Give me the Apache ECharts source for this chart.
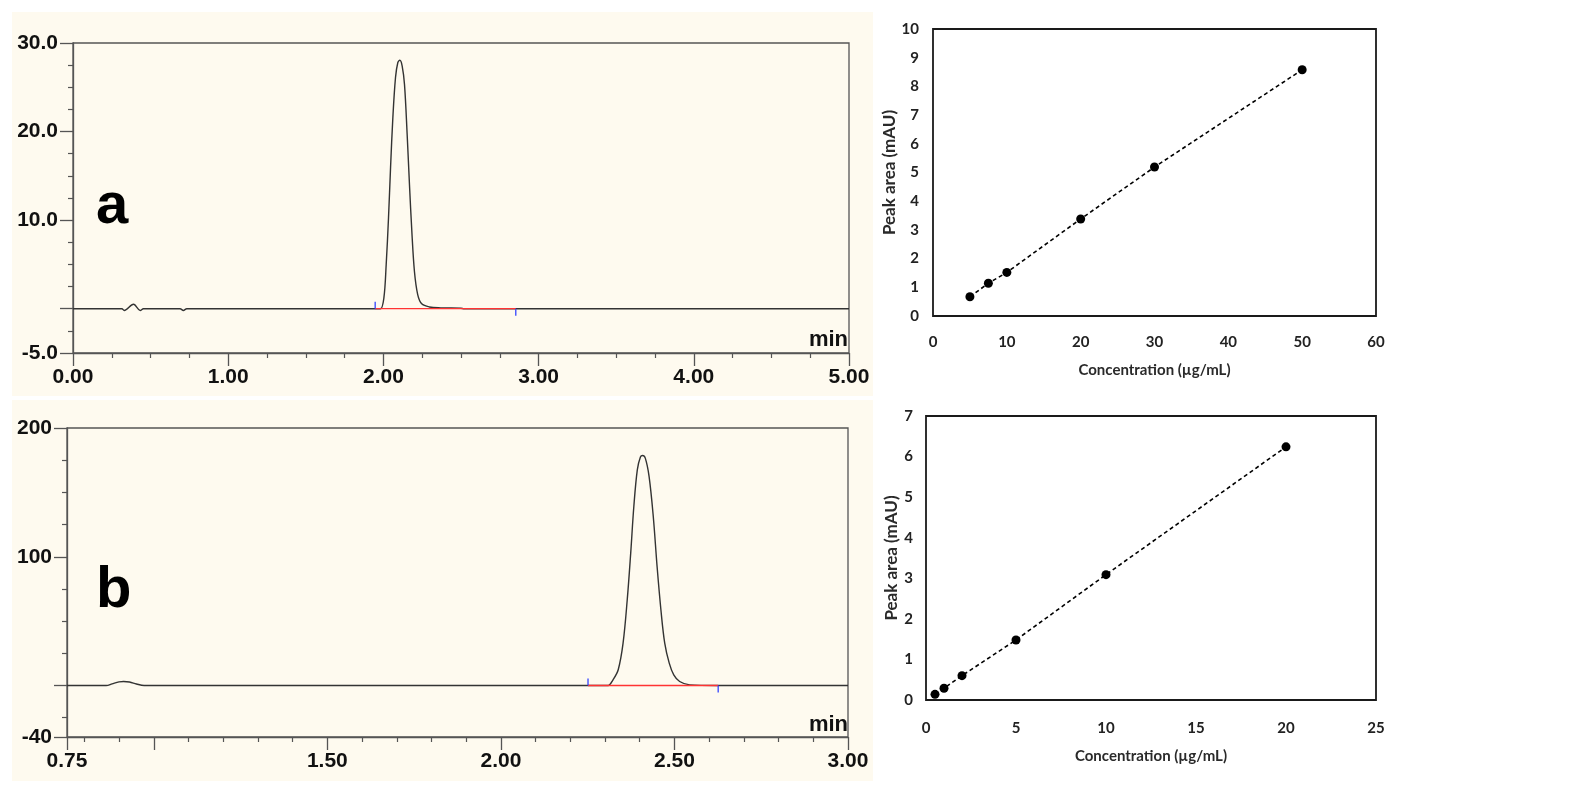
<!DOCTYPE html>
<html>
<head>
<meta charset="utf-8">
<script src="https://cdn.jsdelivr.net/npm/echarts@6/dist/echarts.min.js"></script>
<style>
  html, body { margin: 0; padding: 0; background: #fff; }
  #main { width: 1590px; height: 792px; }
</style>
</head>
<body>
<div id="main"></div>
<script>
// chromatogram a (time in min, signal)
var aTime   = [0, 0.315, 0.33, 0.39, 0.433, 0.454, 0.69, 0.711, 0.733, 1.96, 1.981, 2.003, 2.018, 2.033, 2.046, 2.061, 2.078, 2.093, 2.106, 2.121, 2.136, 2.153, 2.168, 2.183, 2.2, 2.221, 2.247, 2.296, 2.371, 2.5, 2.52, 5.0];
var aSignal = [0, 0, -0.2, 0.5, -0.2, 0, 0, -0.2, 0, 0, 0, 1.2, 5.0, 10.3, 15.9, 21.6, 26.1, 27.8, 28.05, 27.4, 25.3, 19.7, 14.0, 8.8, 4.2, 1.6, 0.55, 0.2, 0.1, 0.05, 0, 0];
var aIntegration = [1.947, 2.853];
var aMarkHeight = 0.8;
var aXMajor  = [0, 1, 2, 3, 4, 5];
var aXLabels = [0, 1, 2, 3, 4, 5];
var aXMinor  = [0.25, 0.5, 0.75, 1.25, 1.5, 1.75, 2.25, 2.5, 2.75, 3.25, 3.5, 3.75, 4.25, 4.5, 4.75];
var aYMajor  = [-5, 0, 10, 20, 30];
var aYLabels = [-5, 10, 20, 30];
var aYMinor  = [-2.5, 2.5, 5, 7.5, 12.5, 15, 17.5, 22.5, 25, 27.5];

// chromatogram b
var bTime   = [0.75, 0.863, 0.88, 0.9, 0.913, 0.93, 0.95, 0.972, 2.29, 2.309, 2.323, 2.338, 2.352, 2.364, 2.374, 2.383, 2.393, 2.402, 2.408, 2.416, 2.427, 2.439, 2.45, 2.461, 2.472, 2.485, 2.498, 2.515, 2.544, 2.621, 3.0];
var bSignal = [0, 0, 1.3, 2.8, 3.1, 2.7, 1.2, 0, 0, 0, 4.4, 12.2, 32.9, 66.6, 102.8, 139, 167.5, 177.4, 178.6, 176.6, 162.3, 131.3, 92.4, 58.8, 32.9, 17.4, 8.3, 3.1, 0.5, 0, 0];
var bIntegration = [2.251, 2.626];
var bMarkHeight = 5.5;
var bXMajor  = [0.75, 1, 1.5, 2, 2.5, 3];
var bXLabels = [0.75, 1.5, 2, 2.5, 3];
var bXMinor  = [0.8, 0.9, 1.1, 1.2, 1.3, 1.4, 1.6, 1.7, 1.8, 1.9, 2.1, 2.2, 2.3, 2.4, 2.6, 2.7, 2.8, 2.9];
var bYMajor  = [-40, 0, 100, 200];
var bYLabels = [-40, 100, 200];
var bYMinor  = [-25, 25, 50, 75, 125, 150, 175];

// calibration curves
var concC = [5, 7.5, 10, 20, 30, 50];
var areaC = [0.67, 1.14, 1.52, 3.38, 5.19, 8.58];
var concD = [0.5, 1, 2, 5, 10, 20];
var areaD = [0.14, 0.29, 0.6, 1.48, 3.09, 6.24];

function zip(xs, ys) {
  return xs.map(function (x, i) { return [x, ys[i]]; });
}

var axisColor = '#555';
var labelFont = { color: '#111', fontFamily: 'Liberation Sans', fontWeight: 'bold', fontSize: 21 };

function chromAxes(grid, pos, min, max, major, labels, minor, digits, margin) {
  var main = {
    type: 'value', gridIndex: grid, position: pos, min: min, max: max,
    axisLine: { show: true, onZero: false, lineStyle: { color: axisColor, width: 1.3 } },
    axisTick: { show: true, customValues: major, length: 13, lineStyle: { color: axisColor, width: 1.3 } },
    axisLabel: Object.assign({
      customValues: labels, margin: margin,
      formatter: function (v) { return Number(v).toFixed(digits); }
    }, labelFont),
    splitLine: { show: false }
  };
  var small = {
    type: 'value', gridIndex: grid, position: pos, min: min, max: max,
    axisLine: { show: false, onZero: false },
    axisTick: { show: true, customValues: minor, length: 5, lineStyle: { color: axisColor, width: 1.2 } },
    axisLabel: { show: false },
    splitLine: { show: false }
  };
  return [main, small];
}

var calFont = { color: '#222', fontFamily: 'Lato', fontWeight: 'bold', fontSize: 15 };

function calX(grid, max, interval, margin, gap) {
  return {
    type: 'value', gridIndex: grid, min: 0, max: max, interval: interval,
    axisLine: { show: false, onZero: false }, axisTick: { show: false },
    axisLabel: Object.assign({ margin: margin }, calFont),
    splitLine: { show: false },
    name: 'Concentration (µg/mL)', nameLocation: 'middle', nameGap: gap,
    nameTextStyle: { color: '#2a2a2a', fontFamily: 'Lato', fontWeight: 'bold', fontSize: 15 }
  };
}
function calY(grid, max, margin, gap) {
  return {
    type: 'value', gridIndex: grid, min: 0, max: max, interval: 1,
    axisLine: { show: false, onZero: false }, axisTick: { show: false },
    axisLabel: Object.assign({ margin: margin }, calFont),
    splitLine: { show: false },
    name: 'Peak area (mAU)', nameLocation: 'middle', nameGap: gap, nameRotate: 90,
    nameTextStyle: { color: '#2a2a2a', fontFamily: 'Lato', fontWeight: 'bold', fontSize: 17 }
  };
}

var ax = chromAxes(0, 'bottom', 0, 5, aXMajor, aXLabels, aXMinor, 2, 14);
var ay = chromAxes(0, 'left', -5, 30, aYMajor, aYLabels, aYMinor, 1, 15);
var bx = chromAxes(1, 'bottom', 0.75, 3, bXMajor, bXLabels, bXMinor, 2, 14);
var by = chromAxes(1, 'left', -40, 200, bYMajor, bYLabels, bYMinor, 0, 15);

function trace(xi, data) {
  return {
    type: 'line', xAxisIndex: xi, yAxisIndex: xi, data: data,
    showSymbol: false, smooth: 0.35, clip: false,
    lineStyle: { color: '#333', width: 1.4 }, z: 3
  };
}
function segment(xi, data, color, width) {
  return {
    type: 'line', xAxisIndex: xi, yAxisIndex: xi, data: data,
    showSymbol: false, clip: false,
    lineStyle: { color: color, width: width }, z: 4
  };
}
function calib(xi, data) {
  return {
    type: 'line', xAxisIndex: xi, yAxisIndex: xi, data: data,
    symbol: 'circle', symbolSize: 9, showSymbol: true,
    lineStyle: { color: '#000', width: 1.6, type: [4, 3] },
    itemStyle: { color: '#000' }
  };
}

var chart = echarts.init(document.getElementById('main'));
chart.setOption({
  animation: false,
  graphic: [
    { type: 'rect', z: -10, shape: { x: 12, y: 12, width: 861, height: 384 }, style: { fill: '#FEFAEF' }, silent: true },
    { type: 'rect', z: -10, shape: { x: 12, y: 400, width: 861, height: 381 }, style: { fill: '#FEFAEF' }, silent: true },
    { type: 'text', z: 10, x: 96, y: 207, style: { text: 'a', font: 'bold 58px "Liberation Sans"', fill: '#000', verticalAlign: 'middle' } },
    { type: 'text', z: 10, x: 96, y: 591, style: { text: 'b', font: 'bold 58px "Liberation Sans"', fill: '#000', verticalAlign: 'middle' } },
    { type: 'text', z: 10, x: 848, y: 340, style: { text: 'min', font: 'bold 22px "Liberation Sans"', fill: '#111', align: 'right', verticalAlign: 'middle' } },
    { type: 'text', z: 10, x: 848, y: 725, style: { text: 'min', font: 'bold 22px "Liberation Sans"', fill: '#111', align: 'right', verticalAlign: 'middle' } }
  ],
  grid: [
    { left: 73, top: 43, width: 776, height: 310, show: true, borderColor: axisColor, borderWidth: 1.3, backgroundColor: 'transparent', outerBoundsMode: 'none' },
    { left: 67, top: 428, width: 781, height: 309, show: true, borderColor: axisColor, borderWidth: 1.3, backgroundColor: 'transparent', outerBoundsMode: 'none' },
    { left: 933, top: 29, width: 443, height: 287, show: true, borderColor: '#1a1a1a', borderWidth: 1.8, backgroundColor: 'transparent', outerBoundsMode: 'none' },
    { left: 926, top: 416, width: 450, height: 284, show: true, borderColor: '#1a1a1a', borderWidth: 1.8, backgroundColor: 'transparent', outerBoundsMode: 'none' }
  ],
  xAxis: [ax[0], ax[1], bx[0], bx[1], calX(2, 60, 10, 19, 47), calX(3, 25, 5, 21, 49)],
  yAxis: [ay[0], ay[1], by[0], by[1], calY(2, 10, 14, 29), calY(3, 7, 13, 20)],
  series: [
    trace(0, zip(aTime, aSignal)),
    segment(0, [[aIntegration[0], 0], [aIntegration[1], 0]], '#ff3333', 1.3),
    segment(0, [[aIntegration[0], 0], [aIntegration[0], aMarkHeight]], '#3344ff', 1.3),
    segment(0, [[aIntegration[1], 0], [aIntegration[1], -aMarkHeight]], '#3344ff', 1.3),
    trace(2, zip(bTime, bSignal)),
    segment(2, [[bIntegration[0], 0], [bIntegration[1], 0]], '#ff3333', 1.3),
    segment(2, [[bIntegration[0], 0], [bIntegration[0], bMarkHeight]], '#3344ff', 1.3),
    segment(2, [[bIntegration[1], 0], [bIntegration[1], -bMarkHeight]], '#3344ff', 1.3),
    calib(4, zip(concC, areaC)),
    calib(5, zip(concD, areaD))
  ]
});
</script>
</body>
</html>
